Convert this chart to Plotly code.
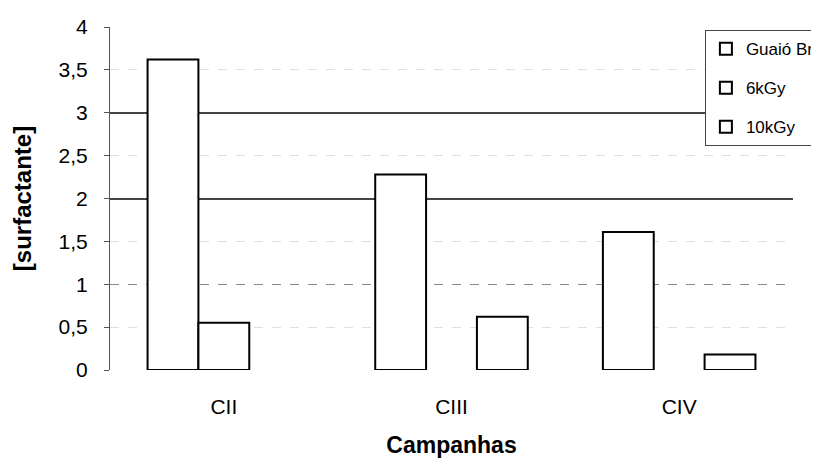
import plotly.graph_objects as go

categories = ["CII", "CIII", "CIV"]
series_names = ["Guaió Br", "6kGy", "10kGy"]
guaio_br = [3.62, 2.28, 1.61]
kgy6 = [0.55, None, None]
kgy10 = [None, 0.62, 0.18]
y_ticks = [0, 0.5, 1, 1.5, 2, 2.5, 3, 3.5, 4]
major_grid = [2, 3]
minor_grid = [1]

FONT = "Liberation Sans, Arial, sans-serif"

fig = go.Figure()
for i, (name, vals) in enumerate(zip(series_names, [guaio_br, kgy6, kgy10])):
    fig.add_trace(go.Bar(
        x=categories, y=vals, name=name,
        marker=dict(color="white", line=dict(color="black", width=2)),
        legendgroup=f"g{i}",
    ))

# invisible helper traces for the darker gridline axes
fig.add_trace(go.Scatter(x=categories, y=[None, None, None], yaxis="y2",
                         showlegend=False, hoverinfo="skip"))
fig.add_trace(go.Scatter(x=categories, y=[None, None, None], yaxis="y3",
                         showlegend=False, hoverinfo="skip"))

fig.update_layout(
    width=811, height=450,
    margin=dict(l=102, r=26, t=19, b=88, autoexpand=False),
    paper_bgcolor="white", plot_bgcolor="white",
    separators=",.",
    barmode="group", bargap=0.33, bargroupgap=0,
    font=dict(family=FONT, color="black"),
    xaxis=dict(
        showline=False, showgrid=False, ticks="", ticklabelstandoff=22,
        tickfont=dict(size=21),
        title=dict(text="<b>Campanhas</b>", font=dict(size=23), standoff=24),
    ),
    yaxis=dict(
        range=[0, 4], tickvals=y_ticks, showgrid=True, gridcolor="#e0e0e0",
        gridwidth=1, griddash="dash",
        showline=True, linecolor="#555", linewidth=1,
        ticks="outside", ticklen=5, tickcolor="#555", ticklabelstandoff=12,
        tickfont=dict(size=21), zeroline=False,
        title=dict(text="<b>[surfactante]</b>", font=dict(size=24), standoff=20),
    ),
    yaxis2=dict(
        range=[0, 4], overlaying="y", tickvals=major_grid, showticklabels=False,
        showgrid=True, gridcolor="#444", gridwidth=1.5, zeroline=False, showline=False,
    ),
    yaxis3=dict(
        range=[0, 4], overlaying="y", tickvals=minor_grid, showticklabels=False,
        showgrid=True, gridcolor="#888", gridwidth=1, griddash="dash",
        zeroline=False, showline=False,
    ),
    legend=dict(
        x=0.871, xanchor="left", y=0.991, yanchor="top",
        bgcolor="white", bordercolor="#444", borderwidth=1,
        font=dict(size=17), tracegroupgap=14, itemwidth=30,
    ),
    showlegend=True,
)

fig.write_html("out.html")
